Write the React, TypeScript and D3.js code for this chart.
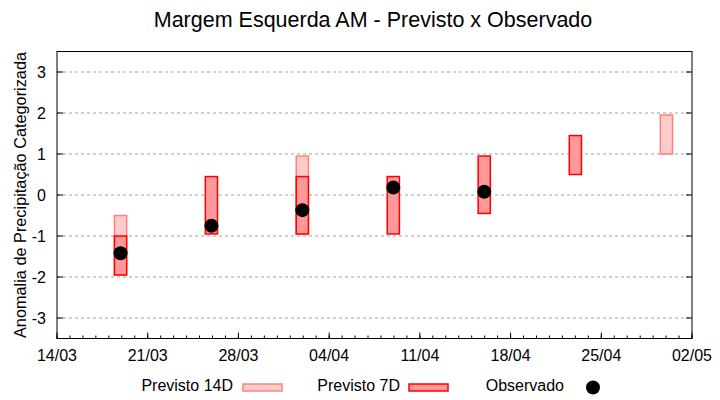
import React from "react";
import * as d3 from "d3";

const dates = [
  "2021-03-18T21:40",
  "2021-03-25T22:00",
  "2021-04-01T22:20",
  "2021-04-08T22:50",
  "2021-04-15T23:15",
  "2021-04-23T00:00",
  "2021-04-30T00:40",
];
// Previsto 14D ranges (null = none)
const p14Low: (number | null)[] = [-1.95, null, -0.95, null, null, null, 1.0];
const p14High: (number | null)[] = [-0.5, null, 0.95, null, null, null, 1.95];
// Previsto 7D ranges
const p7Low: (number | null)[] = [-1.95, -0.95, -0.95, -0.95, -0.45, 0.5, null];
const p7High: (number | null)[] = [-1.0, 0.45, 0.45, 0.45, 0.95, 1.45, null];
// Observado
const observed: (number | null)[] = [-1.42, -0.75, -0.37, 0.18, 0.08, null, null];

const yTicks = [-3, -2, -1, 0, 1, 2, 3];
const xTickLabels = ["14/03", "21/03", "28/03", "04/04", "11/04", "18/04", "25/04", "02/05"];

const W = 720;
const H = 400;
const L = 57;
const R = 692;
const T = 51.5;
const B = 338.5;
const FONT = "'Liberation Sans', Arial, sans-serif";

export default function App() {
  const x = d3
    .scaleTime()
    .domain([new Date("2021-03-14T00:00"), new Date("2021-05-02T00:00")])
    .range([L, R]);
  const y = d3.scaleLinear().domain([-3.5, 3.5]).range([B, T]);
  const parse = (s: string) => new Date(s);
  const dayPx = x(new Date("2021-03-15T00:00")) - x(new Date("2021-03-14T00:00"));
  const bw = dayPx * 0.94;

  const weekTicks = d3.timeDay.range(new Date("2021-03-14T00:00"), new Date("2021-05-02T01:00"), 7);
  const dayTicks = d3.timeDay.range(new Date("2021-03-14T00:00"), new Date("2021-05-02T01:00"), 1);

  return (
    <svg width={W} height={H} style={{ position: "absolute", left: 0, top: 0, background: "#fff" }} fontFamily={FONT}>
      <rect x={0} y={0} width={W} height={H} fill="#fff" />
      <text x={373} y={27} textAnchor="middle" fontSize={21.5} fill="#000">
        Margem Esquerda AM - Previsto x Observado
      </text>
      {/* grid */}
      {yTicks.map((t) => (
        <line key={"g" + t} x1={L} x2={R} y1={y(t)} y2={y(t)} stroke="#a0a0a0" strokeWidth={1} strokeDasharray="3,3" />
      ))}
      {/* y ticks */}
      {yTicks.map((t) => (
        <g key={"yt" + t}>
          <line x1={L} x2={L + 6} y1={y(t)} y2={y(t)} stroke="#000" />
          <line x1={R} x2={R - 6} y1={y(t)} y2={y(t)} stroke="#000" />
          <text x={46} y={y(t) + 5.5} textAnchor="end" fontSize={16} fill="#000">
            {t}
          </text>
        </g>
      ))}
      {/* x ticks */}
      {dayTicks.map((d, i) => (
        <line key={"dt" + i} x1={x(d)} x2={x(d)} y1={B} y2={B - 3} stroke="#000" />
      ))}
      {weekTicks.map((d, i) => (
        <g key={"wt" + i}>
          <line x1={x(d)} x2={x(d)} y1={B} y2={B - 6} stroke="#000" />
          <text x={x(d)} y={B + 22} textAnchor="middle" fontSize={16} fill="#000">
            {xTickLabels[i]}
          </text>
        </g>
      ))}
      {/* 14D bars */}
      {dates.map((d, i) =>
        p14Low[i] != null && p14High[i] != null ? (
          <rect
            key={"p14" + i}
            x={x(parse(d)) - bw / 2}
            y={y(p14High[i] as number)}
            width={bw}
            height={y(p14Low[i] as number) - y(p14High[i] as number)}
            fill="#ffcccc"
            stroke="#ff8080"
            strokeWidth={1.5}
          />
        ) : null
      )}
      {/* 7D bars */}
      {dates.map((d, i) =>
        p7Low[i] != null && p7High[i] != null ? (
          <rect
            key={"p7" + i}
            x={x(parse(d)) - bw / 2}
            y={y(p7High[i] as number)}
            width={bw}
            height={y(p7Low[i] as number) - y(p7High[i] as number)}
            fill="#ff9999"
            stroke="#ff0000"
            strokeWidth={1.5}
          />
        ) : null
      )}
      {/* observed */}
      {dates.map((d, i) =>
        observed[i] != null ? (
          <circle key={"o" + i} cx={x(parse(d))} cy={y(observed[i] as number)} r={7} fill="#000" />
        ) : null
      )}
      {/* frame */}
      <rect x={L} y={T} width={R - L} height={B - T} fill="none" stroke="#000" strokeWidth={1} />
      {/* y label */}
      <text
        transform={`translate(26,${(T + B) / 2}) rotate(-90)`}
        textAnchor="middle"
        fontSize={16.3}
        fill="#000"
      >
        Anomalia de Precipitação Categorizada
      </text>
      {/* legend */}
      <text x={233} y={391} textAnchor="end" fontSize={16} fill="#000">Previsto 14D</text>
      <rect x={243} y={384} width={39} height={7} fill="#ffcccc" stroke="#ff8080" strokeWidth={1.5} />
      <text x={400} y={391} textAnchor="end" fontSize={16} fill="#000">Previsto 7D</text>
      <rect x={409} y={384} width={39} height={7} fill="#ff9999" stroke="#ff0000" strokeWidth={1.5} />
      <text x={564} y={391} textAnchor="end" fontSize={16} fill="#000">Observado</text>
      <circle cx={593} cy={387.5} r={7} fill="#000" />
    </svg>
  );
}
